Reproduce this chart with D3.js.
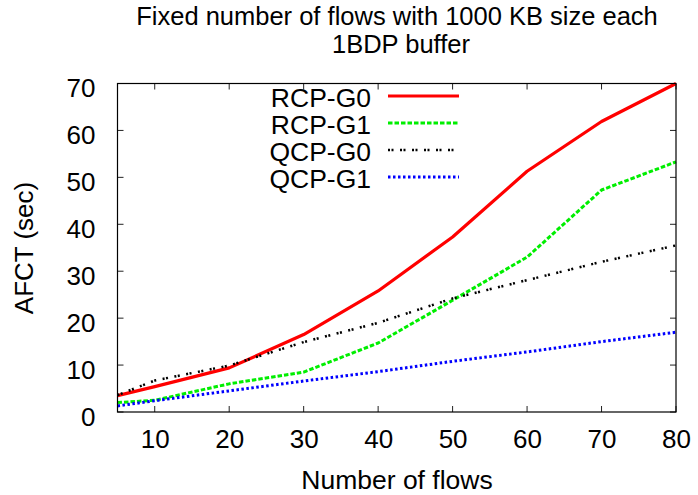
<!DOCTYPE html>
<html>
<head>
<meta charset="utf-8">
<script src="https://cdn.jsdelivr.net/npm/d3@7"></script>
<style>
  html, body { margin: 0; padding: 0; background: #fff; }
  svg { display: block; }
  text { font-family: "Liberation Sans", Arial, Helvetica, sans-serif; fill: #000; }
</style>
</head>
<body>
<svg id="chart" width="698" height="495"></svg>
<script>
// ---- data ----
const flows = [5, 10, 20, 30, 40, 50, 60, 70, 80];
const rcpG0 = [3.5, 5.4, 9.4, 16.5, 25.8, 37.3, 51.3, 61.9, 70.0];
const rcpG1 = [2.0, 2.5, 6.0, 8.5, 14.7, 23.8, 33.0, 47.3, 53.3];
const qcpG0 = [3.6, 6.7, 9.9, 14.9, 19.0, 24.2, 28.1, 32.0, 35.5];
const qcpG1 = [1.3, 2.4, 4.5, 6.6, 8.6, 10.8, 12.8, 15.0, 17.0];
const seriesNames = ["RCP-G0", "RCP-G1", "QCP-G0", "QCP-G1"];
const xTicks = [10, 20, 30, 40, 50, 60, 70, 80];
const yTicks = [0, 10, 20, 30, 40, 50, 60, 70];
const titleLines = ["Fixed number of flows with 1000 KB size each", "1BDP buffer"];
const xLabel = "Number of flows";
const yLabel = "AFCT (sec)";

const series = [
  { name: seriesNames[0], values: rcpG0, color: "#ff0000", width: 3.2, dash: null },
  { name: seriesNames[1], values: rcpG1, color: "#00ee00", width: 3, dash: "4.5,2" },
  { name: seriesNames[2], values: qcpG0, color: "#000000", width: 2.5, dash: "2,1.5,2,6.5" },
  { name: seriesNames[3], values: qcpG1, color: "#0000ff", width: 3, dash: "2.5,2.5" }
];

const svg = d3.select("#chart");
const L = 117.5, R = 676, T = 83.5, B = 412;

const x = d3.scaleLinear().domain([5, 80]).range([L, R]);
const y = d3.scaleLinear().domain([0, 70]).range([B, T]);

// title
svg.append("text").attr("x", 397).attr("y", 24.5).attr("text-anchor", "middle")
  .style("font-size", "25.5px").text(titleLines[0]);
svg.append("text").attr("x", 401).attr("y", 53).attr("text-anchor", "middle")
  .style("font-size", "25.5px").text(titleLines[1]);

// ticks (inward, all four sides)
const tickLen = 6;
const g = svg.append("g");
xTicks.forEach(t => {
  g.append("line").attr("x1", x(t)).attr("x2", x(t)).attr("y1", B).attr("y2", B - tickLen)
    .attr("stroke", "#222").attr("stroke-width", 1);
  g.append("line").attr("x1", x(t)).attr("x2", x(t)).attr("y1", T).attr("y2", T + tickLen)
    .attr("stroke", "#222").attr("stroke-width", 1);
});
yTicks.forEach(t => {
  g.append("line").attr("x1", L).attr("x2", L + tickLen).attr("y1", y(t)).attr("y2", y(t))
    .attr("stroke", "#222").attr("stroke-width", 1);
  g.append("line").attr("x1", R).attr("x2", R - tickLen).attr("y1", y(t)).attr("y2", y(t))
    .attr("stroke", "#222").attr("stroke-width", 1);
});

// axes labels via d3 axes (tick text only)
const xAxis = svg.append("g").attr("transform", `translate(0,${B})`)
  .call(d3.axisBottom(x).tickValues(xTicks).tickSize(0).tickPadding(0).tickFormat(d3.format("d")));
xAxis.select(".domain").remove();
xAxis.selectAll("text").attr("dy", null).attr("y", 36).style("font-size", "26px").style("font-family", null);

const yAxis = svg.append("g").attr("transform", `translate(${L},0)`)
  .call(d3.axisLeft(y).tickValues(yTicks).tickSize(0).tickPadding(0).tickFormat(d3.format("d")));
yAxis.select(".domain").remove();
yAxis.selectAll("text").attr("dy", null).attr("x", -22).attr("y", 13).style("font-size", "26px").style("font-family", null);
svg.selectAll(".tick text").attr("fill", "#000");
svg.selectAll("g[font-family]").attr("font-family", null).attr("font-size", null);

// axis titles
svg.append("text").attr("x", 397).attr("y", 489).attr("text-anchor", "middle")
  .style("font-size", "26.5px").text(xLabel);
svg.append("text").attr("transform", "translate(33,248) rotate(-90)").attr("text-anchor", "middle")
  .style("font-size", "26px").text(yLabel);

// lines
const line = d3.line().x((d, i) => x(flows[i])).y(d => y(d));
const clipId = "plotclip";
svg.append("clipPath").attr("id", clipId).append("rect")
  .attr("x", L).attr("y", T - 3).attr("width", R - L + 3).attr("height", B - T + 3);

// legend
const legY0 = 96, legStep = 27;
series.forEach((s, i) => {
  const ly = legY0 + i * legStep;
  svg.append("text").attr("x", 371).attr("y", ly + 11).attr("text-anchor", "end")
    .style("font-size", "26.5px").text(s.name);
  svg.append("line").attr("x1", 388).attr("x2", 459).attr("y1", ly).attr("y2", ly)
    .attr("stroke", s.color).attr("stroke-width", s.width)
    .attr("stroke-dasharray", s.dash);
});

series.forEach(s => {
  svg.append("path").datum(s.values).attr("d", line)
    .attr("fill", "none").attr("stroke", s.color).attr("stroke-width", s.width)
    .attr("stroke-dasharray", s.dash).attr("stroke-linejoin", "round")
    .attr("clip-path", `url(#${clipId})`);
});

// border
svg.append("rect").attr("x", L).attr("y", T).attr("width", R - L).attr("height", B - T)
  .attr("fill", "none").attr("stroke", "#000").attr("stroke-width", 1.2);
</script>
</body>
</html>
